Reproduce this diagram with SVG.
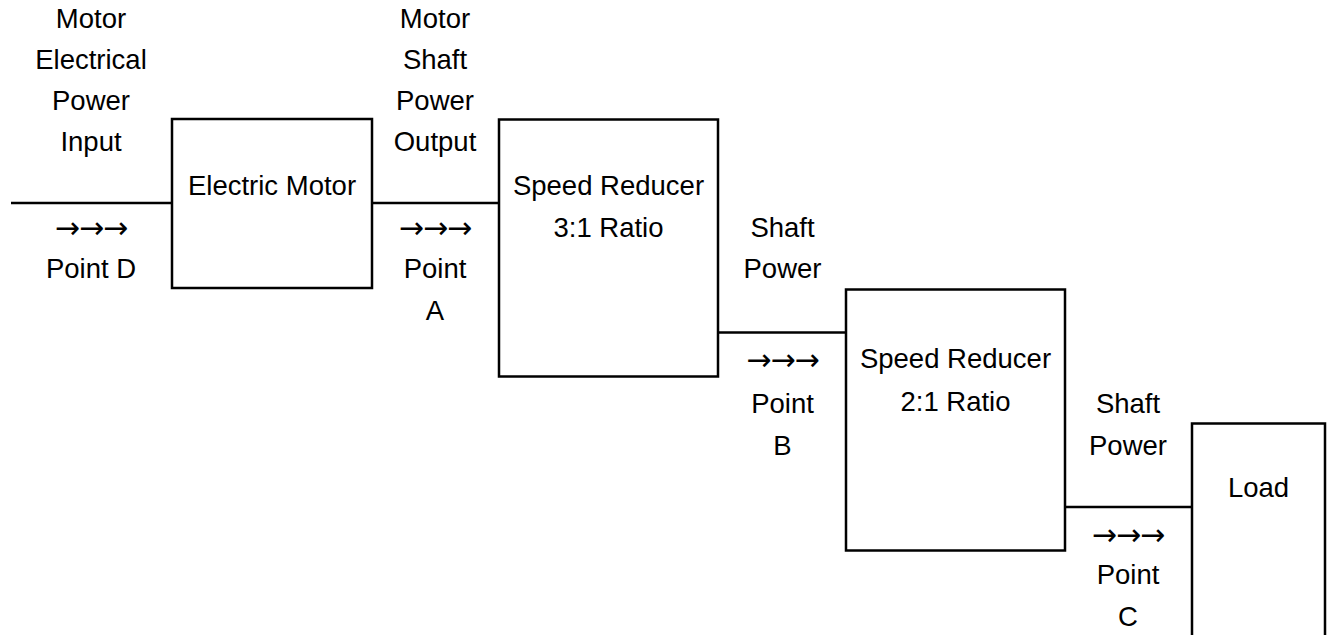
<svg xmlns="http://www.w3.org/2000/svg" width="1329" height="635" viewBox="0 0 1329 635">
<style>
.box{fill:#fff;stroke:#000;stroke-width:2.5}
.ln{fill:none;stroke:#000;stroke-width:2.5}
text{font-family:"Liberation Sans",Arial,sans-serif;font-size:27.5px;fill:#000;text-anchor:middle}
text.arr{font-family:"DejaVu Sans",sans-serif;font-size:30px;letter-spacing:-1px}
</style>
<rect width="1329" height="635" fill="#fff"/>
<g id="connectors">
<line class="ln" x1="11" y1="203" x2="172" y2="203"/>
<line class="ln" x1="372" y1="203" x2="499" y2="203"/>
<line class="ln" x1="718" y1="332.5" x2="846" y2="332.5"/>
<line class="ln" x1="1065" y1="507" x2="1192" y2="507"/>
</g>
<g id="label-d">
<text x="91" y="28">Motor</text>
<text x="91" y="69">Electrical</text>
<text x="91" y="110">Power</text>
<text x="91" y="151">Input</text>
<text class="arr" x="91" y="238">→→→</text>
<text x="91" y="278">Point D</text>
</g>
<g id="electric-motor">
<rect class="box" x="172" y="119" width="200" height="169"/>
<text x="272" y="195">Electric Motor</text>
</g>
<g id="label-a">
<text x="435" y="28">Motor</text>
<text x="435" y="69">Shaft</text>
<text x="435" y="110">Power</text>
<text x="435" y="151">Output</text>
<text class="arr" x="435" y="238">→→→</text>
<text x="435" y="278">Point</text>
<text x="435" y="320">A</text>
</g>
<g id="speed-reducer-1">
<rect class="box" x="499" y="119.5" width="219" height="257"/>
<text x="608.5" y="195">Speed Reducer</text>
<text x="608.5" y="237">3:1 Ratio</text>
</g>
<g id="label-b">
<text x="782.5" y="237">Shaft</text>
<text x="782.5" y="278">Power</text>
<text class="arr" x="782.5" y="370">→→→</text>
<text x="782.5" y="413">Point</text>
<text x="782.5" y="455">B</text>
</g>
<g id="speed-reducer-2">
<rect class="box" x="846" y="289.5" width="219" height="261"/>
<text x="955.5" y="368">Speed Reducer</text>
<text x="955.5" y="411">2:1 Ratio</text>
</g>
<g id="label-c">
<text x="1128" y="413">Shaft</text>
<text x="1128" y="455">Power</text>
<text class="arr" x="1128" y="545">→→→</text>
<text x="1128" y="584">Point</text>
<text x="1128" y="626">C</text>
</g>
<g id="load">
<path class="box" d="M1192,640 V423.5 H1325 V640"/>
<text x="1258.5" y="497">Load</text>
</g>
</svg>
